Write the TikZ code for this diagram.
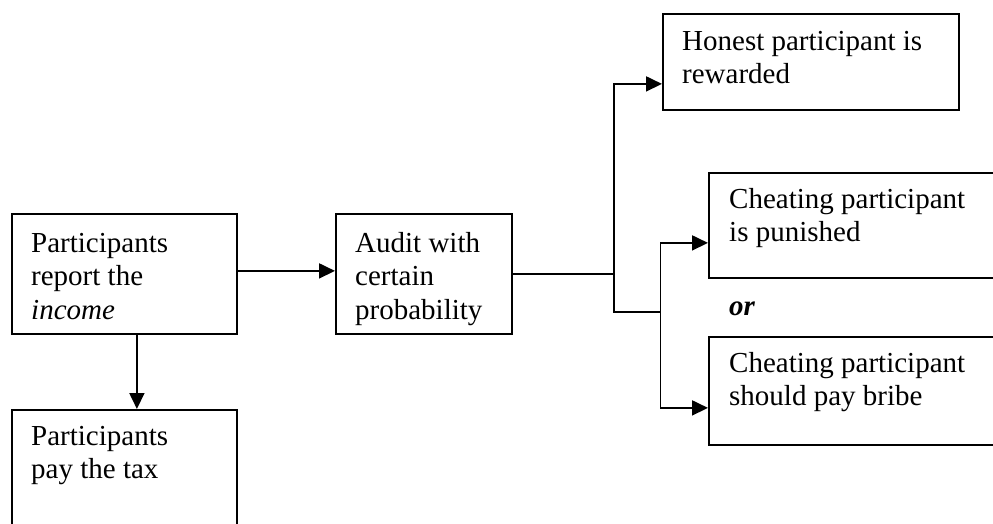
\documentclass[tikz,border=0pt]{standalone}
\usepackage{fontspec}
\setmainfont{Liberation Serif}
\usetikzlibrary{arrows.meta}
\begin{document}
\begin{tikzpicture}[x=1pt,y=-1pt,
  box/.style={draw,line width=1.8pt,anchor=north west,inner sep=0pt,rectangle},
  txt/.style={font=\fontsize{29}{33.5}\selectfont,align=left,inner sep=0pt,anchor=north west},
  ln/.style={line width=1.8pt},
  arr/.style={line width=1.8pt,-{Triangle[length=16pt,width=15pt]}}]
\useasboundingbox (0,0) rectangle (993,524);
\clip (0,0) rectangle (993,524);
% boxes
\node[box,minimum width=225pt,minimum height=120pt] (b1) at (11,213) {};
\node[box,minimum width=176pt,minimum height=120pt] (b2) at (335,213) {};
\node[box,minimum width=225pt,minimum height=140pt] (b3) at (11,409) {};
\node[box,minimum width=296pt,minimum height=96pt] (h) at (662,13) {};
\node[box,minimum width=300pt,minimum height=105pt] (p) at (708,172) {};
\node[box,minimum width=300pt,minimum height=108pt] (br) at (708,336) {};
% texts
\node[txt] (t1) at (31,228.5) {\strut Participants\\report the\\\textit{income}};
\node[txt] (t2) at (355,228.5) {\strut Audit with\\certain\\probability};
\node[txt] (t3) at (31,421.5) {\strut Participants\\pay the tax};
\node[txt] (th) at (682,26.5) {\strut Honest participant is\\rewarded};
\node[txt] (tp) at (729,184.5) {\strut Cheating participant\\is punished};
\node[txt] (tb) at (729,348.5) {\strut Cheating participant\\should pay bribe};
\node[font=\fontsize{29}{33.5}\selectfont\bfseries\itshape,inner sep=0pt,anchor=base west] (or) at (729,315) {or};
% connectors
\path (b2.east) ++(101.5,0) coordinate (j);
\coordinate (k) at (660.5,312);
\draw[arr] ([yshift=3pt]b1.east) -- ([yshift=3pt]b2.west);
\draw[arr] ([xshift=12.5pt]b1.south) -- ([xshift=12.5pt]b3.north);
\draw[ln] (b2.east) -- (j);
\draw[arr] (j) |- ([yshift=-22pt]h.west);
\draw[ln] (j) |- (k);
\draw[arr] (k) |- ([yshift=-17.5pt]p.west);
\draw[arr] (k) |- ([yshift=-17pt]br.west);
\end{tikzpicture}
\end{document}
